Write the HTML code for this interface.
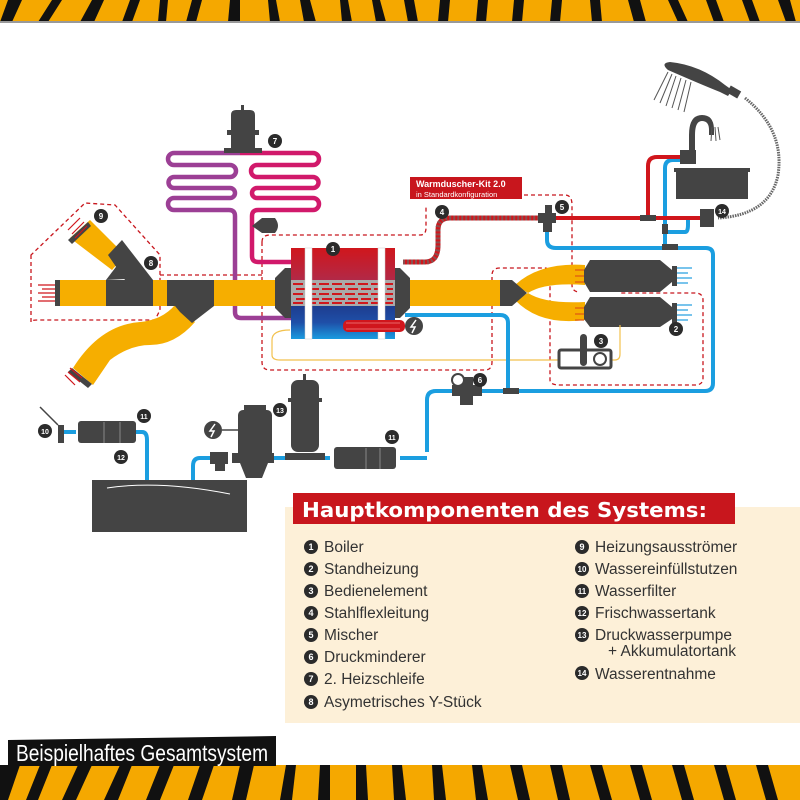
<!DOCTYPE html>
<html><head><meta charset="utf-8"><style>
html,body{margin:0;padding:0;background:#fff}
svg{display:block}
text{font-family:"Liberation Sans","DejaVu Sans",sans-serif}
</style></head><body>
<svg width="800" height="800" viewBox="0 0 800 800" xmlns="http://www.w3.org/2000/svg">
<defs>
<linearGradient id="bt" x1="0" y1="0" x2="0" y2="1"><stop offset="0" stop-color="#d0161c"/><stop offset="1" stop-color="#b02a4a"/></linearGradient>
<linearGradient id="bb" x1="0" y1="0" x2="0" y2="1"><stop offset="0" stop-color="#1d3d8f"/><stop offset="0.5" stop-color="#1f4fa8"/><stop offset="1" stop-color="#1a9be0"/></linearGradient>
</defs>
<rect x="0" y="0" width="800" height="22" fill="#f5a800"/>
<g fill="#111">
<polygon points="8,0 22,0 12,22 0,22"/><polygon points="52,0 62,0 48,22 38,22"/><polygon points="92,0 104,0 94,22 80,22"/><polygon points="130,0 140,0 132,22 122,22"/><polygon points="160,0 168,0 166,22 158,22"/><polygon points="192,0 202,0 196,22 186,22"/><polygon points="230,0 240,0 240,22 228,22"/><polygon points="268,0 276,0 280,22 270,22"/><polygon points="300,0 310,0 316,22 304,22"/><polygon points="340,0 348,0 352,22 342,22"/><polygon points="372,0 380,0 386,22 376,22"/><polygon points="404,0 414,0 418,22 408,22"/><polygon points="440,0 450,0 448,22 438,22"/><polygon points="478,0 488,0 486,22 476,22"/><polygon points="514,0 524,0 522,22 512,22"/><polygon points="552,0 562,0 560,22 550,22"/><polygon points="590,0 600,0 602,22 592,22"/><polygon points="628,0 640,0 646,22 634,22"/><polygon points="668,0 678,0 688,22 678,22"/><polygon points="706,0 716,0 724,22 714,22"/><polygon points="742,0 752,0 760,22 750,22"/><polygon points="778,0 790,0 796,22 786,22"/>
</g>
<rect x="0" y="21" width="800" height="2" fill="#999"/>
<rect x="0" y="765" width="800" height="35" fill="#f5a800"/>
<g fill="#111">
<polygon points="0,765 20,765 8,800 0,800"/><polygon points="40,765 52,765 38,800 26,800"/><polygon points="78,765 92,765 76,800 62,800"/><polygon points="120,765 132,765 118,800 104,800"/><polygon points="160,765 174,765 160,800 146,800"/><polygon points="200,765 214,765 202,800 188,800"/><polygon points="240,765 254,765 246,800 232,800"/><polygon points="286,765 296,765 292,800 280,800"/><polygon points="320,765 330,765 330,800 318,800"/><polygon points="356,765 366,765 368,800 356,800"/><polygon points="392,765 402,765 406,800 394,800"/><polygon points="432,765 442,765 446,800 434,800"/><polygon points="472,765 482,765 488,800 476,800"/><polygon points="510,765 522,765 530,800 518,800"/><polygon points="550,765 562,765 570,800 558,800"/><polygon points="590,765 602,765 612,800 600,800"/><polygon points="630,765 642,765 652,800 640,800"/><polygon points="672,765 684,765 694,800 682,800"/><polygon points="714,765 726,765 736,800 724,800"/><polygon points="756,765 768,765 778,800 766,800"/>
</g>
<polygon points="8,740 276,736 276,766 8,766" fill="#111"/>
<text x="16" y="761" font-size="23" fill="#fff" textLength="252" lengthAdjust="spacingAndGlyphs">Beispielhaftes Gesamtsystem</text>

<rect x="285" y="507" width="515" height="216" fill="#fdf0d8"/>
<rect x="293" y="493" width="442" height="31" fill="#c8161d"/>
<text x="302" y="517" font-size="20" font-weight="bold" fill="#fff" style="font-family:'DejaVu Sans',sans-serif" textLength="405" lengthAdjust="spacingAndGlyphs">Hauptkomponenten des Systems:</text>
<g font-size="15.5" fill="#333">
<g fill="#2b2b2b"><circle cx="311" cy="547" r="7"/><circle cx="311" cy="569" r="7"/><circle cx="311" cy="591" r="7"/><circle cx="311" cy="613" r="7"/><circle cx="311" cy="635" r="7"/><circle cx="311" cy="657" r="7"/><circle cx="311" cy="679" r="7"/><circle cx="311" cy="702" r="7"/>
<circle cx="582" cy="547" r="7"/><circle cx="582" cy="569" r="7"/><circle cx="582" cy="591" r="7"/><circle cx="582" cy="613" r="7"/><circle cx="582" cy="635" r="7"/><circle cx="582" cy="673" r="7"/></g>
<g font-size="9" font-weight="bold" fill="#fff" text-anchor="middle">
<text x="311" y="550">1</text><text x="311" y="572">2</text><text x="311" y="594">3</text><text x="311" y="616">4</text><text x="311" y="638">5</text><text x="311" y="660">6</text><text x="311" y="682">7</text><text x="311" y="705">8</text>
<text x="582" y="550">9</text><text x="582" y="572" font-size="8">10</text><text x="582" y="594" font-size="8">11</text><text x="582" y="616" font-size="8">12</text><text x="582" y="638" font-size="8">13</text><text x="582" y="676" font-size="8">14</text></g>
<text x="324" y="552">Boiler</text><text x="324" y="574">Standheizung</text><text x="324" y="596">Bedienelement</text><text x="324" y="618">Stahlflexleitung</text><text x="324" y="640">Mischer</text><text x="324" y="662">Druckminderer</text><text x="324" y="684">2. Heizschleife</text><text x="324" y="707">Asymetrisches Y-Stück</text>
<text x="595" y="552">Heizungsausströmer</text><text x="595" y="574">Wassereinfüllstutzen</text><text x="595" y="596">Wasserfilter</text><text x="595" y="618">Frischwassertank</text><text x="595" y="640">Druckwasserpumpe</text><text x="608" y="656">+ Akkumulatortank</text><text x="595" y="679">Wasserentnahme</text>
</g>

<g fill="none" stroke="#c8161d" stroke-width="1.3" stroke-dasharray="4,3">
<path d="M31,255 L31,322 Q31,320 38,320 L155,320 L160,310 L160,255 L115,205 L85,203 Z"/>
<path d="M160,275 H262"/>
<path d="M262,242 Q262,235 270,235 H420 Q426,235 426,228 V205"/>
<path d="M262,242 V362 Q262,370 270,370 H485 Q492,370 492,362 V275 Q492,268 500,268 H545 Q550,268 550,276 V380 Q550,385 560,385 H695 Q703,385 703,378 V300 Q703,293 695,293 H620"/>
<path d="M440,195 H565 Q572,195 572,205 V285 Q572,292 580,292"/>
</g>

<path d="M240,153 H174 A6,6 0 0 0 174,165 H230 A6,6 0 0 1 230,177 H174 A5.5,5.5 0 0 0 174,188 H230 A5,5 0 0 1 230,198 H174 A6,6 0 0 0 174,210 H229 Q235,210 235,216 V312 Q235,318 241,318 H328 Q333,318 333,312 V268" fill="none" stroke="#9c3f95" stroke-width="4.5"/>
<path d="M240,153 H313 A6,6 0 0 1 313,165 H257 A6,6 0 0 0 257,177 H313 A5.5,5.5 0 0 1 313,188 H257 A5,5 0 0 0 257,198 H313 A6,6 0 0 1 313,210 H258 Q252,210 252,216 V256 Q252,262 258,262 H326 Q333,262 333,268" fill="none" stroke="#d1196b" stroke-width="4.5"/>
<rect x="241" y="105" width="3" height="8" fill="#444"/>
<path d="M231,115 Q231,110 236,110 H250 Q255,110 255,115 V130 H259 V135 H255 V148 H262 V153 H224 V148 H231 V135 H227 V130 H231 Z" fill="#444"/>
<path d="M252,226 L262,218 H275 Q281,226 275,233 H262 Z" fill="#444"/>

<g fill="#f6ae00">
<rect x="58" y="280" width="232" height="26"/>
<polygon points="70,238 90,220 125,255 112,270"/>
<path d="M175,305 L195,322 Q175,345 150,345 Q130,345 110,360 L93,385 L73,368 Q100,325 140,322 Q162,320 175,305 Z"/>
<rect x="410" y="280" width="95" height="26"/>
<path d="M515,285 Q540,262 585,265 V285 Q545,282 528,293 Z"/>
<path d="M515,300 Q540,326 585,320 V302 Q545,304 528,293 Z"/>
</g>
<g fill="#444">
<rect x="55" y="280" width="5" height="26"/>
<polygon points="68,240 88,222 91,226 72,244"/>
<polygon points="106,280 153,280 153,306 106,306"/>
<polygon points="106,280 125,255 145,278"/>
<polygon points="108,255 122,240 153,280 125,280"/>
<rect x="167" y="280" width="47" height="26"/>
<polygon points="175,306 214,306 192,323 180,312"/>
<polygon points="72,368 92,384 88,388 68,372"/>
<path d="M275,278 L285,268 H292 V318 H285 L275,308 Z"/>
<path d="M410,278 L400,268 H394 V318 H400 L410,308 Z"/>
<path d="M500,280 H512 L527,293 L512,306 H500 Z"/>
<path d="M590,260 H660 L672,270 V282 L660,292 H590 L584,282 V270 Z"/>
<path d="M590,297 H660 L672,307 V319 L660,327 H590 L584,319 V307 Z"/>
<rect x="672" y="266" width="5" height="20"/><rect x="672" y="303" width="5" height="20"/>
</g>
<g stroke="#d0161c" stroke-width="1.2">
<path d="M38,285H55M42,289H55M38,293H55M42,297H55M38,301H55"/>
<path d="M68,230L80,218M72,234L84,222M75,238L87,226"/>
<path d="M65,375L75,385M68,372L80,382M70,368L82,378"/>
<path d="M575,270H584M575,276H584M575,282H584M575,308H584M575,314H584M575,320H584" stroke="#e05a10"/>
</g>
<g stroke="#29a0e0" stroke-width="1.2">
<path d="M677,268H692M677,273H688M677,278H692M677,283H688M677,305H692M677,310H688M677,315H692M677,320H688"/>
</g>

<rect x="291" y="248" width="104" height="34" fill="url(#bt)"/>
<rect x="291" y="280" width="104" height="26" fill="#aaa"/>
<rect x="291" y="306" width="104" height="33" fill="url(#bb)"/>
<g stroke="#d0161c" stroke-width="2" stroke-dasharray="10,3">
<path d="M293,284H393M296,289H393M293,294H393M296,299H393M293,303H393"/>
</g>
<rect x="305" y="248" width="7" height="91" fill="#fff" stroke="#ccc" stroke-width="0.5"/>
<rect x="378" y="248" width="7" height="91" fill="#fff" stroke="#ccc" stroke-width="0.5"/>
<rect x="343" y="320" width="62" height="12" rx="5" fill="#d0161c"/>
<path d="M346,323H400M346,329H400" stroke="#f08080" stroke-width="0.8"/>
<circle cx="414" cy="326" r="9" fill="#444"/>
<path d="M416,320 L411,327 H415 L412,333" stroke="#fff" stroke-width="1.5" fill="none"/>

<path d="M290,330 Q272,330 272,340 V355 Q272,360 280,360 H615 Q620,360 620,354 V325" fill="none" stroke="#f2c14e" stroke-width="1.2"/>
<rect x="559" y="350" width="52" height="18" rx="2" fill="#fff" stroke="#444" stroke-width="3"/>
<rect x="580" y="334" width="7" height="32" rx="3.5" fill="#444"/>
<circle cx="600" cy="359" r="6" fill="#fff" stroke="#444" stroke-width="2"/>

<g fill="none" stroke-width="4">
<path d="M405,315 H500 Q508,315 508,323 V391" stroke="#1b9ee0"/>
<path d="M427,452 V400 Q427,391 436,391 H705 Q713,391 713,383 V255 Q713,248 706,248 H556 Q547,248 547,240 V230" stroke="#1b9ee0"/>
<path d="M665,248 V168 Q665,160 673,160 H690" stroke="#1b9ee0"/>
<path d="M665,232 H685 Q688,232 688,225 V218 H700" stroke="#1b9ee0"/>
<path d="M540,218 H700" stroke="#d0161c"/>
<path d="M648,218 V166 Q648,157 657,157 H690" stroke="#d0161c"/>
<path d="M400,458 H427" stroke="#1b9ee0"/>
<path d="M330,458 H318" stroke="#1b9ee0"/>
<path d="M285,458 H265" stroke="#1b9ee0"/>
<path d="M210,458 H200 Q193,458 193,466 V481" stroke="#1b9ee0"/>
<path d="M135,432 H142 Q147,432 147,440 V481" stroke="#1b9ee0"/>
<path d="M64,432 H76" stroke="#1b9ee0"/>
</g>
<path d="M403,262 H425 Q438,262 438,245 V230 Q438,218 450,218 H538" fill="none" stroke="#d0161c" stroke-width="5"/>
<path d="M403,262 H425 Q438,262 438,245 V230 Q438,218 450,218 H538" fill="none" stroke="#8a5050" stroke-width="5" stroke-dasharray="2,2"/>
<g fill="#444">
<path d="M538,213 H545 V205 H552 V213 H556 V223 H552 V232 H543 V223 H538 Z"/>
<rect x="640" y="215" width="16" height="6"/><rect x="662" y="244" width="16" height="6"/><rect x="662" y="224" width="6" height="10"/>
<rect x="503" y="388" width="16" height="6"/>
<rect x="680" y="150" width="16" height="14"/>
<rect x="700" y="209" width="14" height="18"/>
<path d="M452,385 H460 V377 H473 V385 H482 V396 H473 V405 H460 V396 H452 Z"/>
<rect x="676" y="170" width="72" height="29"/><rect x="674" y="168" width="76" height="4"/>
<path d="M689,150 V135 Q689,115 702,115 Q714,115 714,130 V135 H709 V130 Q709,121 702,121 Q695,121 695,135 V150 Z"/>
<path d="M668,70 Q660,63 670,62 Q700,65 725,85 L732,90 L728,96 L720,92 Q700,84 668,70 Z"/>
<rect x="728" y="88" width="12" height="8" transform="rotate(30 734 92)"/>
</g>
<path d="M745,98 Q785,130 778,175 Q770,215 718,218" fill="none" stroke="#666" stroke-width="3" stroke-dasharray="1.5,1"/>
<g stroke="#555" stroke-width="1">
<path d="M668,72L654,100M672,74L660,103M676,76L666,106M681,78L672,108M686,80L678,110M691,82L684,112M712,127L711,141M715,127L716,141M718,127L720,140"/>
</g>
<circle cx="458" cy="380" r="6" fill="#fff" stroke="#444" stroke-width="2"/>

<g fill="#444">
<rect x="78" y="421" width="58" height="22" rx="3"/><rect x="58" y="425" width="6" height="18"/><path d="M40,407 L58,425" stroke="#444" stroke-width="1.5"/>
<rect x="334" y="447" width="62" height="22" rx="3"/>
<rect x="303" y="374" width="3" height="6"/>
<rect x="291" y="380" width="28" height="72" rx="7"/><rect x="288" y="398" width="34" height="4"/>
<rect x="285" y="453" width="40" height="7"/>
<rect x="238" y="410" width="34" height="50" rx="5"/><rect x="244" y="405" width="22" height="8"/>
<rect x="232" y="453" width="42" height="10"/><path d="M240,463 H268 L262,478 H246 Z"/>
<rect x="210" y="452" width="18" height="12"/><rect x="215" y="463" width="10" height="8"/>
<rect x="92" y="480" width="155" height="52"/>
</g>
<path d="M107,488 Q160,480 230,494" stroke="#fff" stroke-width="1" fill="none"/>
<g stroke="#888" stroke-width="1"><path d="M104,422V443M120,422V443M366,448V469M380,448V469"/></g>
<circle cx="213" cy="430" r="9" fill="#444"/><path d="M222,430H238" stroke="#444" stroke-width="1.5"/>
<path d="M215,424 L210,431 H214 L211,437" stroke="#fff" stroke-width="1.5" fill="none"/>

<rect x="410" y="177" width="112" height="22" fill="#c8161d"/>
<text x="416" y="187" font-size="9" font-weight="bold" fill="#fff">Warmduscher-Kit 2.0</text>
<text x="416" y="197" font-size="7.5" fill="#fff">in Standardkonfiguration</text>

<g fill="#2b2b2b">
<circle cx="101" cy="216" r="7"/><circle cx="151" cy="263" r="7"/><circle cx="275" cy="141" r="7"/><circle cx="333" cy="249" r="7"/><circle cx="442" cy="212" r="7"/><circle cx="562" cy="207" r="7"/><circle cx="722" cy="211" r="7"/><circle cx="676" cy="329" r="7"/><circle cx="601" cy="341" r="7"/><circle cx="480" cy="380" r="7"/><circle cx="280" cy="410" r="7"/><circle cx="392" cy="437" r="7"/><circle cx="144" cy="416" r="7"/><circle cx="45" cy="431" r="7"/><circle cx="121" cy="457" r="7"/>
</g>
<g font-size="8" font-weight="bold" fill="#fff" text-anchor="middle">
<text x="101" y="219">9</text><text x="151" y="266">8</text><text x="275" y="144">7</text><text x="333" y="252">1</text><text x="442" y="215">4</text><text x="562" y="210">5</text><text x="722" y="214" font-size="7">14</text><text x="676" y="332">2</text><text x="601" y="344">3</text><text x="480" y="383">6</text><text x="280" y="413" font-size="7">13</text><text x="392" y="440" font-size="7">11</text><text x="144" y="419" font-size="7">11</text><text x="45" y="434" font-size="7">10</text><text x="121" y="460" font-size="7">12</text>
</g>
</svg>
</body></html>
